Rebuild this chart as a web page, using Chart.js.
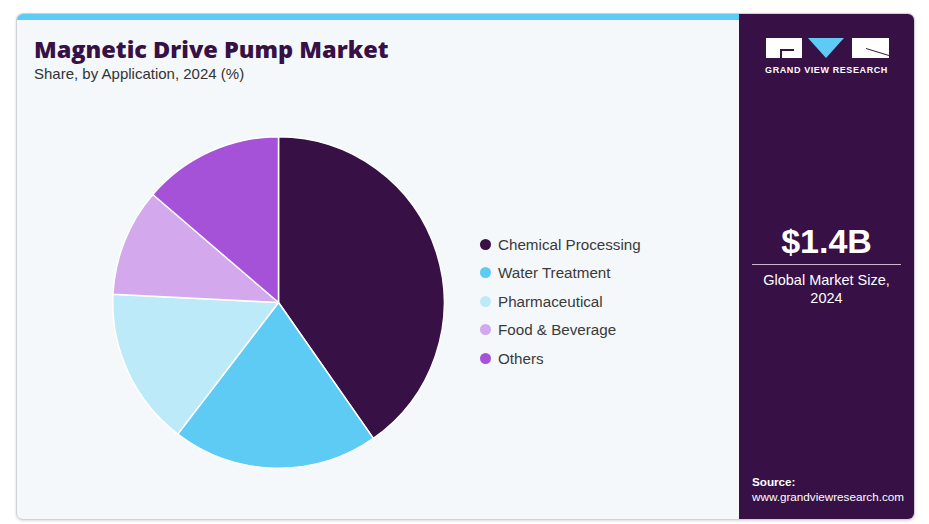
<!DOCTYPE html>
<html>
<head>
<meta charset="utf-8">
<script src="https://cdn.jsdelivr.net/npm/chart.js@4"></script>
<style>
  body { margin: 0; width: 929px; height: 524px; background: #fff; font-family: "Liberation Sans", Arial, sans-serif; position: relative; overflow: hidden; }
  .card { position: absolute; left: 16px; top: 13px; width: 897px; height: 505px; border: 1px solid #cfd3d6; border-radius: 7px; overflow: hidden; background: #f4f8fb; box-shadow: 0 1px 3px rgba(0,0,0,0.15); }
  .stripe { position: absolute; left: 0; top: 0; width: 722px; height: 6px; background: #5ecbf5; }
  .side { position: absolute; left: 722px; top: 0; width: 175px; height: 505px; background: #371046; color: #fff; text-align: center; }
  .title { position: absolute; left: 17px; top: 19px; font-family: "Open Sans", sans-serif; font-weight: 800; font-size: 23.5px; color: #371046; letter-spacing: 0; }
  .subtitle { position: absolute; left: 17px; top: 51px; font-size: 15px; color: #333; }
  #legend { position: absolute; left: 463px; top: 216px; list-style: none; margin: 0; padding: 0; }
  #legend li { height: 28.5px; font-size: 15.2px; color: #3a3a3a; display: flex; align-items: center; }
  #legend span.dot { width: 11px; height: 11px; border-radius: 50%; margin-right: 7px; display: inline-block; }
  .brand { position: absolute; left: 0; width: 175px; top: 51px; font-size: 9px; font-weight: bold; letter-spacing: 0.6px; }
  .big { position: absolute; left: 0; width: 175px; top: 208px; font-size: 34px; font-weight: bold; }
  .rule { position: absolute; left: 13px; width: 149px; top: 250px; height: 1px; background: #c9b8d0; }
  .cap { position: absolute; left: 0; width: 175px; top: 257px; font-size: 14.5px; line-height: 18px; }
  .src { position: absolute; left: 13px; top: 460px; text-align: left; font-size: 11.7px; line-height: 15px; }
  #pieWrap { position: absolute; left: 112px; top: 136px; width: 333px; height: 333px; }
</style>
</head>
<body>
<div class="card">
  <div class="stripe"></div>
  <div class="title">Magnetic Drive Pump Market</div>
  <div class="subtitle">Share, by Application, 2024 (%)</div>
  <ul id="legend"></ul>
  <div class="side">
    <svg style="position:absolute;left:27px;top:24px" width="124" height="22" viewBox="0 0 124 22">
      <path d="M0 0 H36 V20 H0 Z" fill="#fff"/>
      <path d="M14 11 H28 V13 H16 V20 H14 Z" fill="#371046"/>
      <path d="M42 0 H78 L60 20 Z" fill="#5ecbf5"/>
      <path d="M86 0 H123 V20 H86 Z" fill="#fff"/>
      <path d="M100 10 L123 17 V18 L100 11 Z" fill="#371046"/>
    </svg>
    <div class="brand">GRAND VIEW RESEARCH</div>
    <div class="big">$1.4B</div>
    <div class="rule"></div>
    <div class="cap">Global Market Size,<br>2024</div>
    <div class="src"><b>Source:</b><br>www.grandviewresearch.com</div>
  </div>
</div>
<div id="pieWrap"><canvas id="pie"></canvas></div>
<script>
const categories = ["Chemical Processing", "Water Treatment", "Pharmaceutical", "Food & Beverage", "Others"];
const shares = [40.3, 20.1, 15.4, 10.5, 13.7];
const sliceColors = ["#371046", "#5ecbf5", "#bdeaf9", "#d4a8ec", "#a552d9"];

// legend built from the same arrays
const legend = document.getElementById("legend");
categories.forEach((name, i) => {
  const li = document.createElement("li");
  li.innerHTML = `<span class="dot" style="background:${sliceColors[i]}"></span>${name}`;
  legend.appendChild(li);
});

const ctx = document.getElementById("pie").getContext("2d");
new Chart(ctx, {
  type: "pie",
  data: {
    labels: categories,
    datasets: [
      {
        data: shares,
        backgroundColor: sliceColors,
        borderColor: "#ffffff",
        borderWidth: 1.5,
      },
    ],
  },
  options: {
    responsive: true,
    maintainAspectRatio: false,
    animation: false,
    layout: { padding: 0 },
    plugins: {
      legend: { display: false },
      tooltip: { enabled: false },
    },
  },
});
</script>
</body>
</html>
